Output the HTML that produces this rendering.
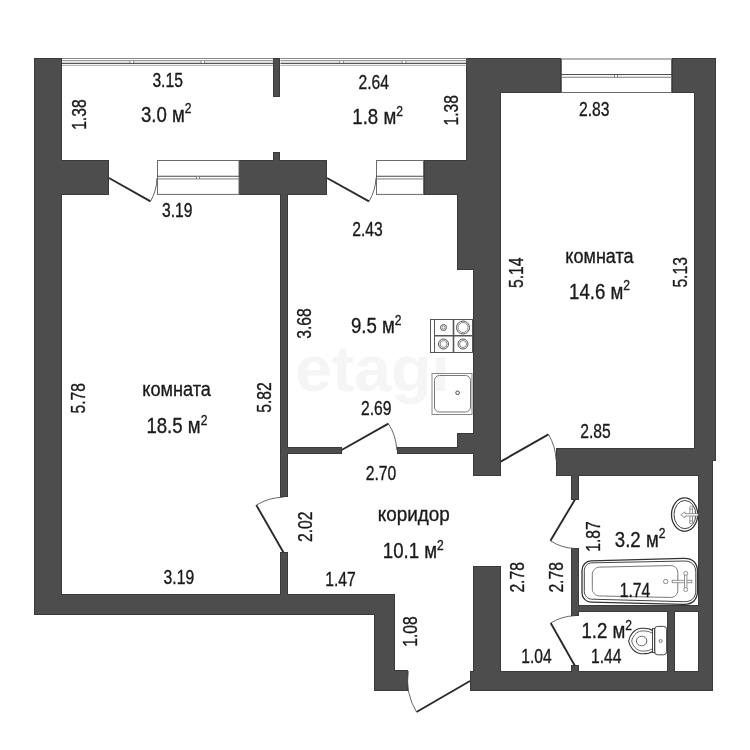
<!DOCTYPE html>
<html><head><meta charset="utf-8"><style>
html,body{margin:0;padding:0;background:#fff;width:750px;height:750px;overflow:hidden}
svg{display:block;will-change:transform}
text{font-family:"Liberation Sans",sans-serif}
</style></head><body><svg width="750" height="750" viewBox="0 0 750 750" font-family="Liberation Sans, sans-serif"><rect width="750" height="750" fill="#fff"/>
<text x="295" y="391" font-size="65" font-weight="bold" fill="#f5f5f5" textLength="155" lengthAdjust="spacingAndGlyphs">etagi</text>
<defs><filter id="er" x="-5%" y="-5%" width="110%" height="110%"><feMorphology operator="erode" radius="0.7"/></filter></defs>
<g fill="#3a3a3a" shape-rendering="crispEdges"><rect x="34" y="58" width="28" height="557"/><rect x="34" y="594" width="361" height="21"/><rect x="374" y="594" width="21" height="97"/><rect x="374" y="670" width="34" height="21"/><rect x="61" y="160" width="48" height="35"/><rect x="239" y="160" width="88" height="35"/><rect x="273" y="58" width="7" height="39"/><rect x="273" y="152" width="7" height="9"/><rect x="280" y="194" width="8" height="303"/><rect x="280" y="552" width="8" height="43"/><rect x="424" y="160" width="43" height="35"/><rect x="466" y="58" width="95" height="35"/><rect x="466" y="92" width="35" height="178"/><rect x="457" y="160" width="44" height="110"/><rect x="473" y="269" width="28" height="207"/><rect x="457" y="433" width="17" height="21"/><rect x="397" y="447" width="77" height="7"/><rect x="287" y="447" width="55" height="7"/><rect x="672" y="58" width="44" height="35"/><rect x="694" y="92" width="22" height="369"/><rect x="698" y="460" width="15" height="231"/><rect x="556" y="448" width="157" height="28"/><rect x="571" y="475" width="8" height="25"/><rect x="571" y="548" width="8" height="68"/><rect x="571" y="605" width="128" height="7"/><rect x="667" y="605" width="8" height="66"/><rect x="473" y="566" width="28" height="105"/><rect x="470" y="671" width="243" height="20"/><rect x="571" y="665" width="8" height="7"/></g>
<g fill="#4d4d4d" filter="url(#er)" shape-rendering="crispEdges"><rect x="34" y="58" width="28" height="557"/><rect x="34" y="594" width="361" height="21"/><rect x="374" y="594" width="21" height="97"/><rect x="374" y="670" width="34" height="21"/><rect x="61" y="160" width="48" height="35"/><rect x="239" y="160" width="88" height="35"/><rect x="273" y="58" width="7" height="39"/><rect x="273" y="152" width="7" height="9"/><rect x="280" y="194" width="8" height="303"/><rect x="280" y="552" width="8" height="43"/><rect x="424" y="160" width="43" height="35"/><rect x="466" y="58" width="95" height="35"/><rect x="466" y="92" width="35" height="178"/><rect x="457" y="160" width="44" height="110"/><rect x="473" y="269" width="28" height="207"/><rect x="457" y="433" width="17" height="21"/><rect x="397" y="447" width="77" height="7"/><rect x="287" y="447" width="55" height="7"/><rect x="672" y="58" width="44" height="35"/><rect x="694" y="92" width="22" height="369"/><rect x="698" y="460" width="15" height="231"/><rect x="556" y="448" width="157" height="28"/><rect x="571" y="475" width="8" height="25"/><rect x="571" y="548" width="8" height="68"/><rect x="571" y="605" width="128" height="7"/><rect x="667" y="605" width="8" height="66"/><rect x="473" y="566" width="28" height="105"/><rect x="470" y="671" width="243" height="20"/><rect x="571" y="665" width="8" height="7"/></g>
<line x1="62" y1="58.5" x2="273.3" y2="58.5" stroke="#888" stroke-width="1"/><line x1="62" y1="60.6" x2="273.3" y2="60.6" stroke="#999" stroke-width="1.2"/><line x1="62" y1="63.4" x2="273.3" y2="63.4" stroke="#555" stroke-width="1.2"/><line x1="62" y1="65.4" x2="273.3" y2="65.4" stroke="#aaa" stroke-width="1"/>
<line x1="280.5" y1="58.5" x2="466.5" y2="58.5" stroke="#888" stroke-width="1"/><line x1="280.5" y1="60.6" x2="466.5" y2="60.6" stroke="#999" stroke-width="1.2"/><line x1="280.5" y1="63.4" x2="466.5" y2="63.4" stroke="#555" stroke-width="1.2"/><line x1="280.5" y1="65.4" x2="466.5" y2="65.4" stroke="#aaa" stroke-width="1"/>
<rect x="129.60000000000002" y="61.2" width="4.4" height="1.7999999999999972" fill="#fff"/><line x1="130.0" y1="61.2" x2="130.0" y2="63.0" stroke="#555" stroke-width="0.8"/><line x1="133.60000000000002" y1="61.2" x2="133.60000000000002" y2="63.0" stroke="#555" stroke-width="0.8"/>
<rect x="200.60000000000002" y="61.2" width="4.4" height="1.7999999999999972" fill="#fff"/><line x1="201.0" y1="61.2" x2="201.0" y2="63.0" stroke="#555" stroke-width="0.8"/><line x1="204.60000000000002" y1="61.2" x2="204.60000000000002" y2="63.0" stroke="#555" stroke-width="0.8"/>
<rect x="339.40000000000003" y="61.2" width="4.4" height="1.7999999999999972" fill="#fff"/><line x1="339.8" y1="61.2" x2="339.8" y2="63.0" stroke="#555" stroke-width="0.8"/><line x1="343.40000000000003" y1="61.2" x2="343.40000000000003" y2="63.0" stroke="#555" stroke-width="0.8"/>
<rect x="401.8" y="61.2" width="4.4" height="1.7999999999999972" fill="#fff"/><line x1="402.2" y1="61.2" x2="402.2" y2="63.0" stroke="#555" stroke-width="0.8"/><line x1="405.8" y1="61.2" x2="405.8" y2="63.0" stroke="#555" stroke-width="0.8"/>
<rect x="157.5" y="160.5" width="81.5" height="33.900000000000006" fill="#fff" stroke="#6a6a6a" stroke-width="1"/><line x1="157" y1="176.25" x2="239.5" y2="176.25" stroke="#4a4a4a" stroke-width="1"/><line x1="157" y1="178.95" x2="239.5" y2="178.95" stroke="#7a7a7a" stroke-width="1"/><rect x="196.5" y="176.75" width="3" height="1.7" fill="#fff"/><line x1="196.5" y1="176.25" x2="196.5" y2="178.95" stroke="#666" stroke-width="0.8"/><line x1="199.5" y1="176.25" x2="199.5" y2="178.95" stroke="#666" stroke-width="0.8"/>
<rect x="376.5" y="160.5" width="47" height="33.900000000000006" fill="#fff" stroke="#6a6a6a" stroke-width="1"/><line x1="376" y1="176.25" x2="424" y2="176.25" stroke="#4a4a4a" stroke-width="1"/><line x1="376" y1="178.95" x2="424" y2="178.95" stroke="#7a7a7a" stroke-width="1"/>
<rect x="561.5" y="59.0" width="110" height="33.5" fill="#fff" stroke="#6a6a6a" stroke-width="1"/><line x1="561" y1="74.55" x2="672" y2="74.55" stroke="#4a4a4a" stroke-width="1"/><line x1="561" y1="77.25" x2="672" y2="77.25" stroke="#7a7a7a" stroke-width="1"/><rect x="614.5" y="75.05" width="3" height="1.7" fill="#fff"/><line x1="614.5" y1="74.55" x2="614.5" y2="77.25" stroke="#666" stroke-width="0.8"/><line x1="617.5" y1="74.55" x2="617.5" y2="77.25" stroke="#666" stroke-width="0.8"/>
<line x1="109" y1="178" x2="150.5" y2="201.3" stroke="#2a2a2a" stroke-width="1.9"/><path d="M150.5 201.3 A47.6 47.6 0 0 0 157 178" fill="none" stroke="#555" stroke-width="0.9"/>
<line x1="327" y1="178" x2="369" y2="201.3" stroke="#2a2a2a" stroke-width="1.9"/><path d="M369 201.3 A48.0 48.0 0 0 0 376 178" fill="none" stroke="#555" stroke-width="0.9"/>
<line x1="341.6" y1="450" x2="388.4" y2="423.6" stroke="#2a2a2a" stroke-width="1.9"/><path d="M388.4 423.6 A53.7 53.7 0 0 1 396.8 450" fill="none" stroke="#555" stroke-width="0.9"/>
<line x1="283.5" y1="552.5" x2="256.3" y2="505.1" stroke="#2a2a2a" stroke-width="1.9"/><path d="M256.3 505.1 A54.6 54.6 0 0 1 283.5 497.2" fill="none" stroke="#555" stroke-width="0.9"/>
<line x1="500.7" y1="461.6" x2="548.5" y2="434.4" stroke="#2a2a2a" stroke-width="1.9"/><path d="M548.5 434.4 A55.0 55.0 0 0 1 556.1 460" fill="none" stroke="#555" stroke-width="0.9"/>
<line x1="575" y1="499.5" x2="550.4" y2="540.8" stroke="#2a2a2a" stroke-width="1.9"/><path d="M550.4 540.8 A48.1 48.1 0 0 0 575 548.5" fill="none" stroke="#555" stroke-width="0.9"/>
<line x1="575" y1="666" x2="550.7" y2="623" stroke="#2a2a2a" stroke-width="1.9"/><path d="M550.7 623 A49.4 49.4 0 0 1 575 615.7" fill="none" stroke="#555" stroke-width="0.9"/>
<line x1="470" y1="681" x2="416.5" y2="712" stroke="#2a2a2a" stroke-width="1.9"/><path d="M416.5 712 A61.8 61.8 0 0 1 408.3 671" fill="none" stroke="#555" stroke-width="0.9"/>
<g fill="none" stroke="#555" stroke-width="1">
<rect x="430.5" y="319.5" width="42" height="33"/>
<line x1="434.5" y1="319.5" x2="434.5" y2="352.5"/>
<line x1="453.5" y1="319.5" x2="453.5" y2="352.5" stroke-width="1.6"/>
<line x1="434.5" y1="335.8" x2="472.5" y2="335.8" stroke-width="1.6"/>
<circle cx="443.5" cy="327.5" r="3"/><circle cx="443.5" cy="327.5" r="1.5" stroke="#888"/>
<circle cx="463" cy="327.5" r="6.5"/><circle cx="463" cy="327.5" r="5" stroke="#888"/>
<circle cx="443.5" cy="344" r="5"/><circle cx="443.5" cy="344" r="3.5" stroke="#888"/>
<circle cx="463" cy="344" r="5"/><circle cx="463" cy="344" r="3.5" stroke="#888"/>
</g>
<g fill="none" stroke="#888" stroke-width="1">
<rect x="432" y="373.5" width="40" height="41"/>
<rect x="434.5" y="375.5" width="36" height="36.5" rx="5" stroke="#777"/>
<circle cx="457.6" cy="392.8" r="1.8" stroke="#444"/>
</g>
<g fill="none">
<ellipse cx="684.6" cy="514.6" rx="13.1" ry="16.7" stroke="#333" stroke-width="1.3"/>
<ellipse cx="684.9" cy="514.6" rx="10.9" ry="14.1" stroke="#444" stroke-width="1"/>
<g stroke="#888" stroke-width="0.9" fill="#fff">
<rect x="689.9" y="508" width="2.6" height="14" />
<circle cx="691.2" cy="507.6" r="1.6"/><circle cx="691.2" cy="522.2" r="1.6"/>
<path d="M698 513.6 L685 513.6 L685 511.8 L680.8 514.8 L685 517.8 L685 516 L698 516 Z"/>
</g>
</g>
<g fill="none"><path d="M591.00 560.94 L683.50 558.30 C692.60 557.90 697.50 562.80 697.50 571.90 L697.50 590.60 C697.50 599.70 692.60 604.60 683.50 604.28 L591.00 602.20 C586.05 602.00 582.00 597.95 582.00 593.00 L582.00 570.20 C582.00 565.25 586.05 561.20 591.00 560.94 Z" stroke="#333" stroke-width="1.3"/><path d="M591.80 562.85 L683.80 561.04 C691.60 560.80 695.80 565.00 695.80 572.80 L695.80 590.00 C695.80 597.80 691.60 602.00 683.80 601.68 L591.80 599.20 C587.67 599.00 584.30 595.62 584.30 591.50 L584.30 570.50 C584.30 566.38 587.67 563.00 591.80 562.85 Z" stroke="#444" stroke-width="1"/><path d="M599.30 567.14 L669.80 565.58 C675.00 565.40 677.80 568.20 677.80 573.40 L677.80 589.60 C677.80 594.80 675.00 597.60 669.80 597.43 L599.30 595.95 C595.45 595.80 592.30 592.65 592.30 588.80 L592.30 574.30 C592.30 570.45 595.45 567.30 599.30 567.14 Z" stroke="#777" stroke-width="1"/><circle cx="665.7" cy="581.5" r="2.2" stroke="#888"/>
<g stroke="#888" stroke-width="0.9" fill="#fff">
<rect x="672.2" y="580.3" width="19.6" height="2.4"/>
<rect x="684.5" y="574.5" width="2.4" height="14.5"/>
<circle cx="685.7" cy="573.3" r="2"/><circle cx="685.7" cy="589.6" r="2"/></g>
</g>
<g fill="none" stroke="#444" stroke-width="1">
<rect x="654.6" y="626.4" width="12" height="28.4" rx="3"/>
<rect x="652.5" y="628.6" width="2.2" height="24" />
<path d="M652.5 630.5 C649 628 645 628 641 628.3 C634 629 629.5 635.5 628.6 641 C629.5 646.5 634 653 641 653.7 C645 654 649 654 652.5 651.5" stroke="#333" stroke-width="1.1"/>
<path d="M652 633 C648.5 631 645 630.8 641.5 631 C636.5 631.5 632.5 636.5 631.7 641 C632.5 645.5 636.5 650.5 641.5 651 C645 651.2 648.5 651 652 649" stroke="#666"/>
<path d="M646.8 641 C646.8 644 644.5 645.8 641.6 645.8 C638.5 645.8 636.4 643.5 636.4 641 C636.4 638.5 638.5 636.2 641.6 636.2 C644.5 636.2 646.8 638 646.8 641 Z" stroke="#666"/>
<circle cx="660.6" cy="641" r="1.5" stroke="#777"/>
</g>
<text x="0" y="0" font-size="19.6" fill="#1a1a1a" stroke="#1a1a1a" stroke-width="0.35" transform="translate(152.40 86.90) scale(0.800 1)">3.15</text>
<text x="0" y="0" font-size="22.6" fill="#1a1a1a" stroke="#1a1a1a" stroke-width="0.35" transform="translate(140.94 121.60) scale(0.825 1)">3.0 м<tspan font-size="0.65em" dy="-0.58em">2</tspan></text>
<text x="0" y="0" font-size="19.6" fill="#1a1a1a" stroke="#1a1a1a" stroke-width="0.35" transform="translate(85.80 129.84) rotate(-90) scale(0.800 1)">1.38</text>
<text x="0" y="0" font-size="19.6" fill="#1a1a1a" stroke="#1a1a1a" stroke-width="0.35" transform="translate(358.51 88.70) scale(0.800 1)">2.64</text>
<text x="0" y="0" font-size="22.6" fill="#1a1a1a" stroke="#1a1a1a" stroke-width="0.35" transform="translate(352.32 124.10) scale(0.825 1)">1.8 м<tspan font-size="0.65em" dy="-0.58em">2</tspan></text>
<text x="0" y="0" font-size="19.6" fill="#1a1a1a" stroke="#1a1a1a" stroke-width="0.35" transform="translate(457.70 125.50) rotate(-90) scale(0.800 1)">1.38</text>
<text x="0" y="0" font-size="19.6" fill="#1a1a1a" stroke="#1a1a1a" stroke-width="0.35" transform="translate(578.95 115.90) scale(0.800 1)">2.83</text>
<text x="0" y="0" font-size="19.6" fill="#1a1a1a" stroke="#1a1a1a" stroke-width="0.35" transform="translate(162.00 216.90) scale(0.800 1)">3.19</text>
<text x="0" y="0" font-size="19.6" fill="#1a1a1a" stroke="#1a1a1a" stroke-width="0.35" transform="translate(352.21 236.10) scale(0.800 1)">2.43</text>
<text x="0" y="0" font-size="21" fill="#1a1a1a" stroke="#1a1a1a" stroke-width="0.35" transform="translate(565.34 262.60) scale(0.860 1)">комната</text>
<text x="0" y="0" font-size="22.6" fill="#1a1a1a" stroke="#1a1a1a" stroke-width="0.35" transform="translate(569.08 298.90) scale(0.825 1)">14.6 м<tspan font-size="0.65em" dy="-0.58em">2</tspan></text>
<text x="0" y="0" font-size="19.6" fill="#1a1a1a" stroke="#1a1a1a" stroke-width="0.35" transform="translate(523.30 287.99) rotate(-90) scale(0.800 1)">5.14</text>
<text x="0" y="0" font-size="19.6" fill="#1a1a1a" stroke="#1a1a1a" stroke-width="0.35" transform="translate(687.10 287.59) rotate(-90) scale(0.800 1)">5.13</text>
<text x="0" y="0" font-size="19.6" fill="#1a1a1a" stroke="#1a1a1a" stroke-width="0.35" transform="translate(311.30 338.70) rotate(-90) scale(0.800 1)">3.68</text>
<text x="0" y="0" font-size="22.6" fill="#1a1a1a" stroke="#1a1a1a" stroke-width="0.35" transform="translate(350.94 333.30) scale(0.825 1)">9.5 м<tspan font-size="0.65em" dy="-0.58em">2</tspan></text>
<text x="0" y="0" font-size="19.6" fill="#1a1a1a" stroke="#1a1a1a" stroke-width="0.35" transform="translate(84.90 413.45) rotate(-90) scale(0.800 1)">5.78</text>
<text x="0" y="0" font-size="21" fill="#1a1a1a" stroke="#1a1a1a" stroke-width="0.35" transform="translate(142.23 396.40) scale(0.865 1)">комната</text>
<text x="0" y="0" font-size="22.6" fill="#1a1a1a" stroke="#1a1a1a" stroke-width="0.35" transform="translate(146.38 433.20) scale(0.825 1)">18.5 м<tspan font-size="0.65em" dy="-0.58em">2</tspan></text>
<text x="0" y="0" font-size="19.6" fill="#1a1a1a" stroke="#1a1a1a" stroke-width="0.35" transform="translate(271.30 412.70) rotate(-90) scale(0.800 1)">5.82</text>
<text x="0" y="0" font-size="19.6" fill="#1a1a1a" stroke="#1a1a1a" stroke-width="0.35" transform="translate(360.95 414.90) scale(0.800 1)">2.69</text>
<text x="0" y="0" font-size="19.6" fill="#1a1a1a" stroke="#1a1a1a" stroke-width="0.35" transform="translate(580.25 437.60) scale(0.800 1)">2.85</text>
<text x="0" y="0" font-size="19.6" fill="#1a1a1a" stroke="#1a1a1a" stroke-width="0.35" transform="translate(365.75 479.70) scale(0.800 1)">2.70</text>
<text x="0" y="0" font-size="21" fill="#1a1a1a" stroke="#1a1a1a" stroke-width="0.35" transform="translate(377.80 521.30) scale(0.900 1)">коридор</text>
<text x="0" y="0" font-size="19.6" fill="#1a1a1a" stroke="#1a1a1a" stroke-width="0.35" transform="translate(311.70 542.00) rotate(-90) scale(0.800 1)">2.02</text>
<text x="0" y="0" font-size="22.6" fill="#1a1a1a" stroke="#1a1a1a" stroke-width="0.35" transform="translate(382.86 558.10) scale(0.825 1)">10.1 м<tspan font-size="0.65em" dy="-0.58em">2</tspan></text>
<text x="0" y="0" font-size="19.6" fill="#1a1a1a" stroke="#1a1a1a" stroke-width="0.35" transform="translate(163.60 584.00) scale(0.800 1)">3.19</text>
<text x="0" y="0" font-size="19.6" fill="#1a1a1a" stroke="#1a1a1a" stroke-width="0.35" transform="translate(325.20 586.10) scale(0.800 1)">1.47</text>
<text x="0" y="0" font-size="19.6" fill="#1a1a1a" stroke="#1a1a1a" stroke-width="0.35" transform="translate(416.60 646.79) rotate(-90) scale(0.800 1)">1.08</text>
<text x="0" y="0" font-size="19.6" fill="#1a1a1a" stroke="#1a1a1a" stroke-width="0.35" transform="translate(600.00 551.80) rotate(-90) scale(0.800 1)">1.87</text>
<text x="0" y="0" font-size="22.6" fill="#1a1a1a" stroke="#1a1a1a" stroke-width="0.35" transform="translate(614.83 546.50) scale(0.825 1)">3.2 м<tspan font-size="0.65em" dy="-0.58em">2</tspan></text>
<text x="0" y="0" font-size="19.6" fill="#1a1a1a" stroke="#1a1a1a" stroke-width="0.35" transform="translate(523.70 592.60) rotate(-90) scale(0.800 1)">2.78</text>
<text x="0" y="0" font-size="19.6" fill="#1a1a1a" stroke="#1a1a1a" stroke-width="0.35" transform="translate(563.30 592.60) rotate(-90) scale(0.800 1)">2.78</text>
<text x="0" y="0" font-size="19.6" fill="#1a1a1a" stroke="#1a1a1a" stroke-width="0.35" transform="translate(619.77 596.90) scale(0.800 1)">1.74</text>
<text x="0" y="0" font-size="22.6" fill="#1a1a1a" stroke="#1a1a1a" stroke-width="0.35" transform="translate(581.43 638.40) scale(0.825 1)">1.2 м<tspan font-size="0.65em" dy="-0.58em">2</tspan></text>
<text x="0" y="0" font-size="19.6" fill="#1a1a1a" stroke="#1a1a1a" stroke-width="0.35" transform="translate(521.21 662.90) scale(0.800 1)">1.04</text>
<text x="0" y="0" font-size="19.6" fill="#1a1a1a" stroke="#1a1a1a" stroke-width="0.35" transform="translate(590.95 662.90) scale(0.800 1)">1.44</text></svg></body></html>
